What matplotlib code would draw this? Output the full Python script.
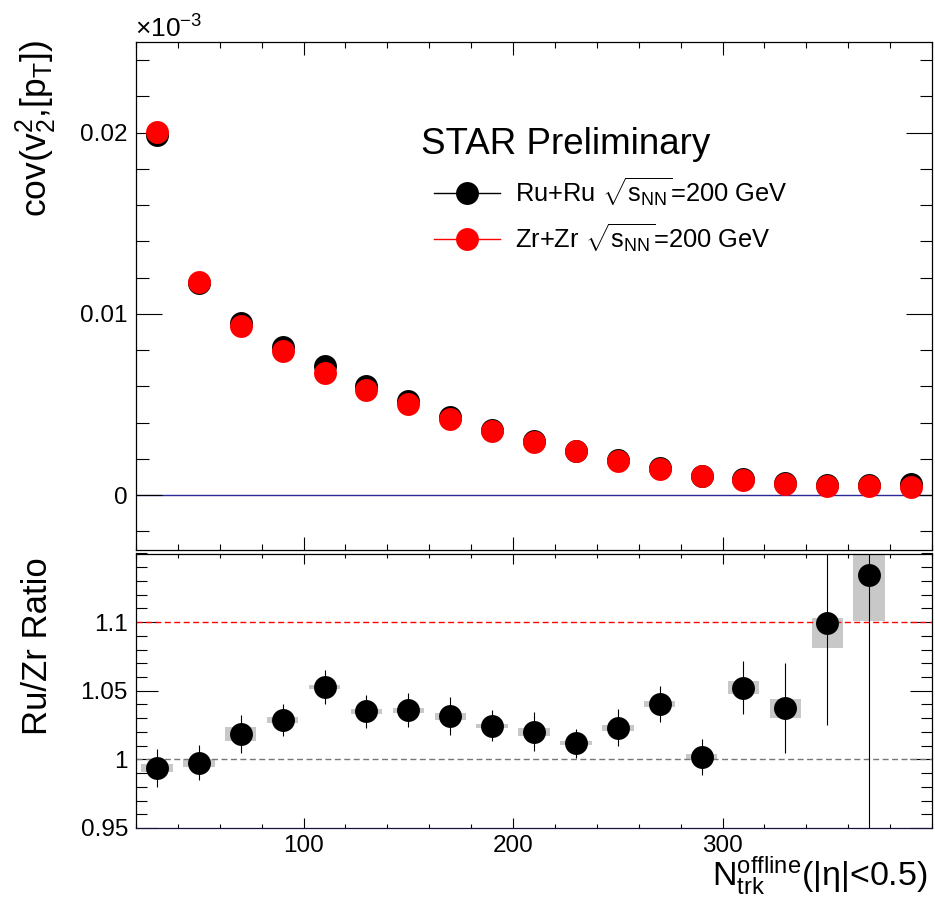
import matplotlib
matplotlib.use('Agg')
import matplotlib.pyplot as plt
from matplotlib.lines import Line2D
from matplotlib.ticker import MultipleLocator, FixedLocator, FormatStrFormatter

# ROOT-like look: Helvetica metrics, ticks inside on all sides
plt.rcParams['font.family'] = ['Liberation Sans', 'DejaVu Sans']
plt.rcParams['mathtext.fontset'] = 'custom'
plt.rcParams['mathtext.rm'] = 'Liberation Sans'
plt.rcParams['mathtext.it'] = 'Liberation Sans:italic'
plt.rcParams['mathtext.bf'] = 'Liberation Sans:bold'

# data
nch = [30, 50, 70, 90, 110, 130, 150, 170, 190, 210, 230, 250, 270, 290, 310, 330, 350, 370, 390]
cov_ru = [0.01989, 0.01172, 0.00948, 0.00816, 0.00712, 0.00602, 0.00518, 0.00433, 0.00362, 0.00298,
          0.00245, 0.00195, 0.00149, 0.00107, 0.00087, 0.00066, 0.00058, 0.00054, 0.00060]
cov_zr = [0.02002, 0.01175, 0.00931, 0.00793, 0.00676, 0.00582, 0.00500, 0.00420, 0.00353, 0.00292,
          0.00242, 0.00191, 0.00143, 0.00107, 0.00083, 0.00064, 0.00053, 0.00048, 0.00046]

nch_ratio = [30, 50, 70, 90, 110, 130, 150, 170, 190, 210, 230, 250, 270, 290, 310, 330, 350, 370]
ratio = [0.9937, 0.9976, 1.0185, 1.0286, 1.0527, 1.0349, 1.0359, 1.0315, 1.0245, 1.0202,
         1.0118, 1.0229, 1.0402, 1.0017, 1.0522, 1.0373, 1.0990, 1.1340]
ratio_stat = [0.0138, 0.0126, 0.0138, 0.0118, 0.0125, 0.0120, 0.0126, 0.0138, 0.0112, 0.0140,
              0.0106, 0.0135, 0.0130, 0.0128, 0.0195, 0.0330, 0.0740, 0.2000]
ratio_sys_lo = [0.0030, 0.0030, 0.0048, 0.0020, 0.0015, 0.0015, 0.0018, 0.0025, 0.0015, 0.0030,
                0.0015, 0.0024, 0.0020, 0.0024, 0.0047, 0.0068, 0.0181, 0.0330]
ratio_sys_hi = [0.0030, 0.0030, 0.0048, 0.0020, 0.0015, 0.0015, 0.0018, 0.0025, 0.0015, 0.0030,
                0.0015, 0.0024, 0.0020, 0.0024, 0.0047, 0.0068, 0.0041, 0.0330]
x_major = [100, 200, 300]

W, H = 935, 900
fig = plt.figure(figsize=(W / 100, H / 100), dpi=100)

def box(l, t, r, b):
    # pixel box -> figure fraction
    return [l / W, 1 - b / H, (r - l) / W, (b - t) / H]

ax1 = fig.add_axes(box(136, 42, 932, 549.5))
ax2 = fig.add_axes(box(136, 553.5, 932, 828))

ms = 16.5

# ---- top panel
ax1.axhline(0, color='#2a2a96', lw=1.0, zorder=1)
ax1.plot(nch, cov_ru, 'o', color='black', ms=ms, mew=0, zorder=3)
ax1.plot(nch, cov_zr, 'o', color='red', ms=ms, mew=0, zorder=4)
ax1.set_xlim(20, 400)
ax1.set_ylim(-0.003, 0.025)
ax1.yaxis.set_major_locator(MultipleLocator(0.01))
ax1.yaxis.set_minor_locator(MultipleLocator(0.002))
ax1.yaxis.set_major_formatter(FormatStrFormatter('%g'))
ax1.xaxis.set_major_locator(FixedLocator(x_major))
ax1.xaxis.set_minor_locator(MultipleLocator(20))
ax1.tick_params(which='both', direction='in', top=True, right=True, width=0.8,
                labelsize=17.5, pad=5.8, labelbottom=False)
ax1.tick_params(axis='y', which='major', length=18.5)
ax1.tick_params(axis='y', which='minor', length=9)
ax1.tick_params(axis='x', which='major', length=9.6)
ax1.tick_params(axis='x', which='minor', length=4.5)

ax1.text(0.3577, 0.7793, 'STAR Preliminary', transform=ax1.transAxes,
         fontsize=26.5, ha='left', va='baseline')

handles = [Line2D([], [], color='black', lw=1, marker='o', ms=ms, mew=0),
           Line2D([], [], color='red', lw=1, marker='o', ms=ms, mew=0)]
labels = [r'Ru+Ru $\sqrt{\mathregular{s_{NN}}}$=200 GeV',
          r'Zr+Zr $\sqrt{\mathregular{s_{NN}}}$=200 GeV']
ax1.legend(handles, labels, loc='center left', bbox_to_anchor=(0.3744, 0.659),
           frameon=False, fontsize=18.4, handlelength=2.6, handletextpad=0.55,
           labelspacing=0.5, borderpad=0, borderaxespad=0)

fig.text(135 / W, 1 - 37.3 / H, r'$\mathregular{\times10^{-3}}$', fontsize=19,
         ha='left', va='baseline')

# ---- ratio panel
ax2.bar(nch_ratio, [lo + hi for lo, hi in zip(ratio_sys_lo, ratio_sys_hi)],
        bottom=[r - lo for r, lo in zip(ratio, ratio_sys_lo)], width=15,
        color='#c8c8c8', lw=0, zorder=1)
ax2.axhline(1.0, color='#777777', lw=1.0, ls=(0, (4.3, 2.5)), zorder=2)
ax2.axhline(1.1, color='red', lw=1.0, ls=(0, (4.3, 2.5)), zorder=2)
ax2.errorbar(nch_ratio, ratio, yerr=ratio_stat, fmt='o', color='black', ms=ms, mew=0,
             elinewidth=0.8, capsize=0, zorder=3)
ax2.set_xlim(20, 400)
ax2.set_ylim(0.95, 1.15)
ax2.yaxis.set_major_locator(FixedLocator([0.95, 1.0, 1.05, 1.1]))
ax2.yaxis.set_minor_locator(MultipleLocator(0.01))
ax2.yaxis.set_major_formatter(FormatStrFormatter('%g'))
ax2.xaxis.set_major_locator(FixedLocator(x_major))
ax2.xaxis.set_minor_locator(MultipleLocator(20))
ax2.tick_params(which='both', direction='in', top=True, right=True, width=0.8, labelsize=17.5)
ax2.tick_params(axis='y', which='both', pad=5.8)
ax2.tick_params(axis='x', which='both', pad=5)
ax2.tick_params(axis='y', which='major', length=15.5)
ax2.tick_params(axis='y', which='minor', length=7.9)
ax2.tick_params(axis='x', which='major', length=7.2)
ax2.tick_params(axis='x', which='minor', length=2.9)
ax2.spines['bottom'].set_color('#14143c')

for a in (ax1, ax2):
    for s in a.spines.values():
        s.set_linewidth(0.9)

# axis titles, ROOT style (aligned to the far end)
fig.text(46.7 / W, 1 - 40 / H, r'cov($\mathregular{v_{2}^{2}}$,[$\mathregular{p_{T}}$])',
         fontsize=25.5, rotation=90, rotation_mode='anchor', ha='right', va='baseline')
fig.text(46.7 / W, 1 - 557 / H, 'Ru/Zr Ratio',
         fontsize=25, rotation=90, rotation_mode='anchor', ha='right', va='baseline')
fig.text(928 / W, 1 - 886 / H, r'$\mathregular{N_{trk}^{offline}}$(|η|<0.5)',
         fontsize=24.5, ha='right', va='baseline')

fig.savefig('out.png', dpi=100)
